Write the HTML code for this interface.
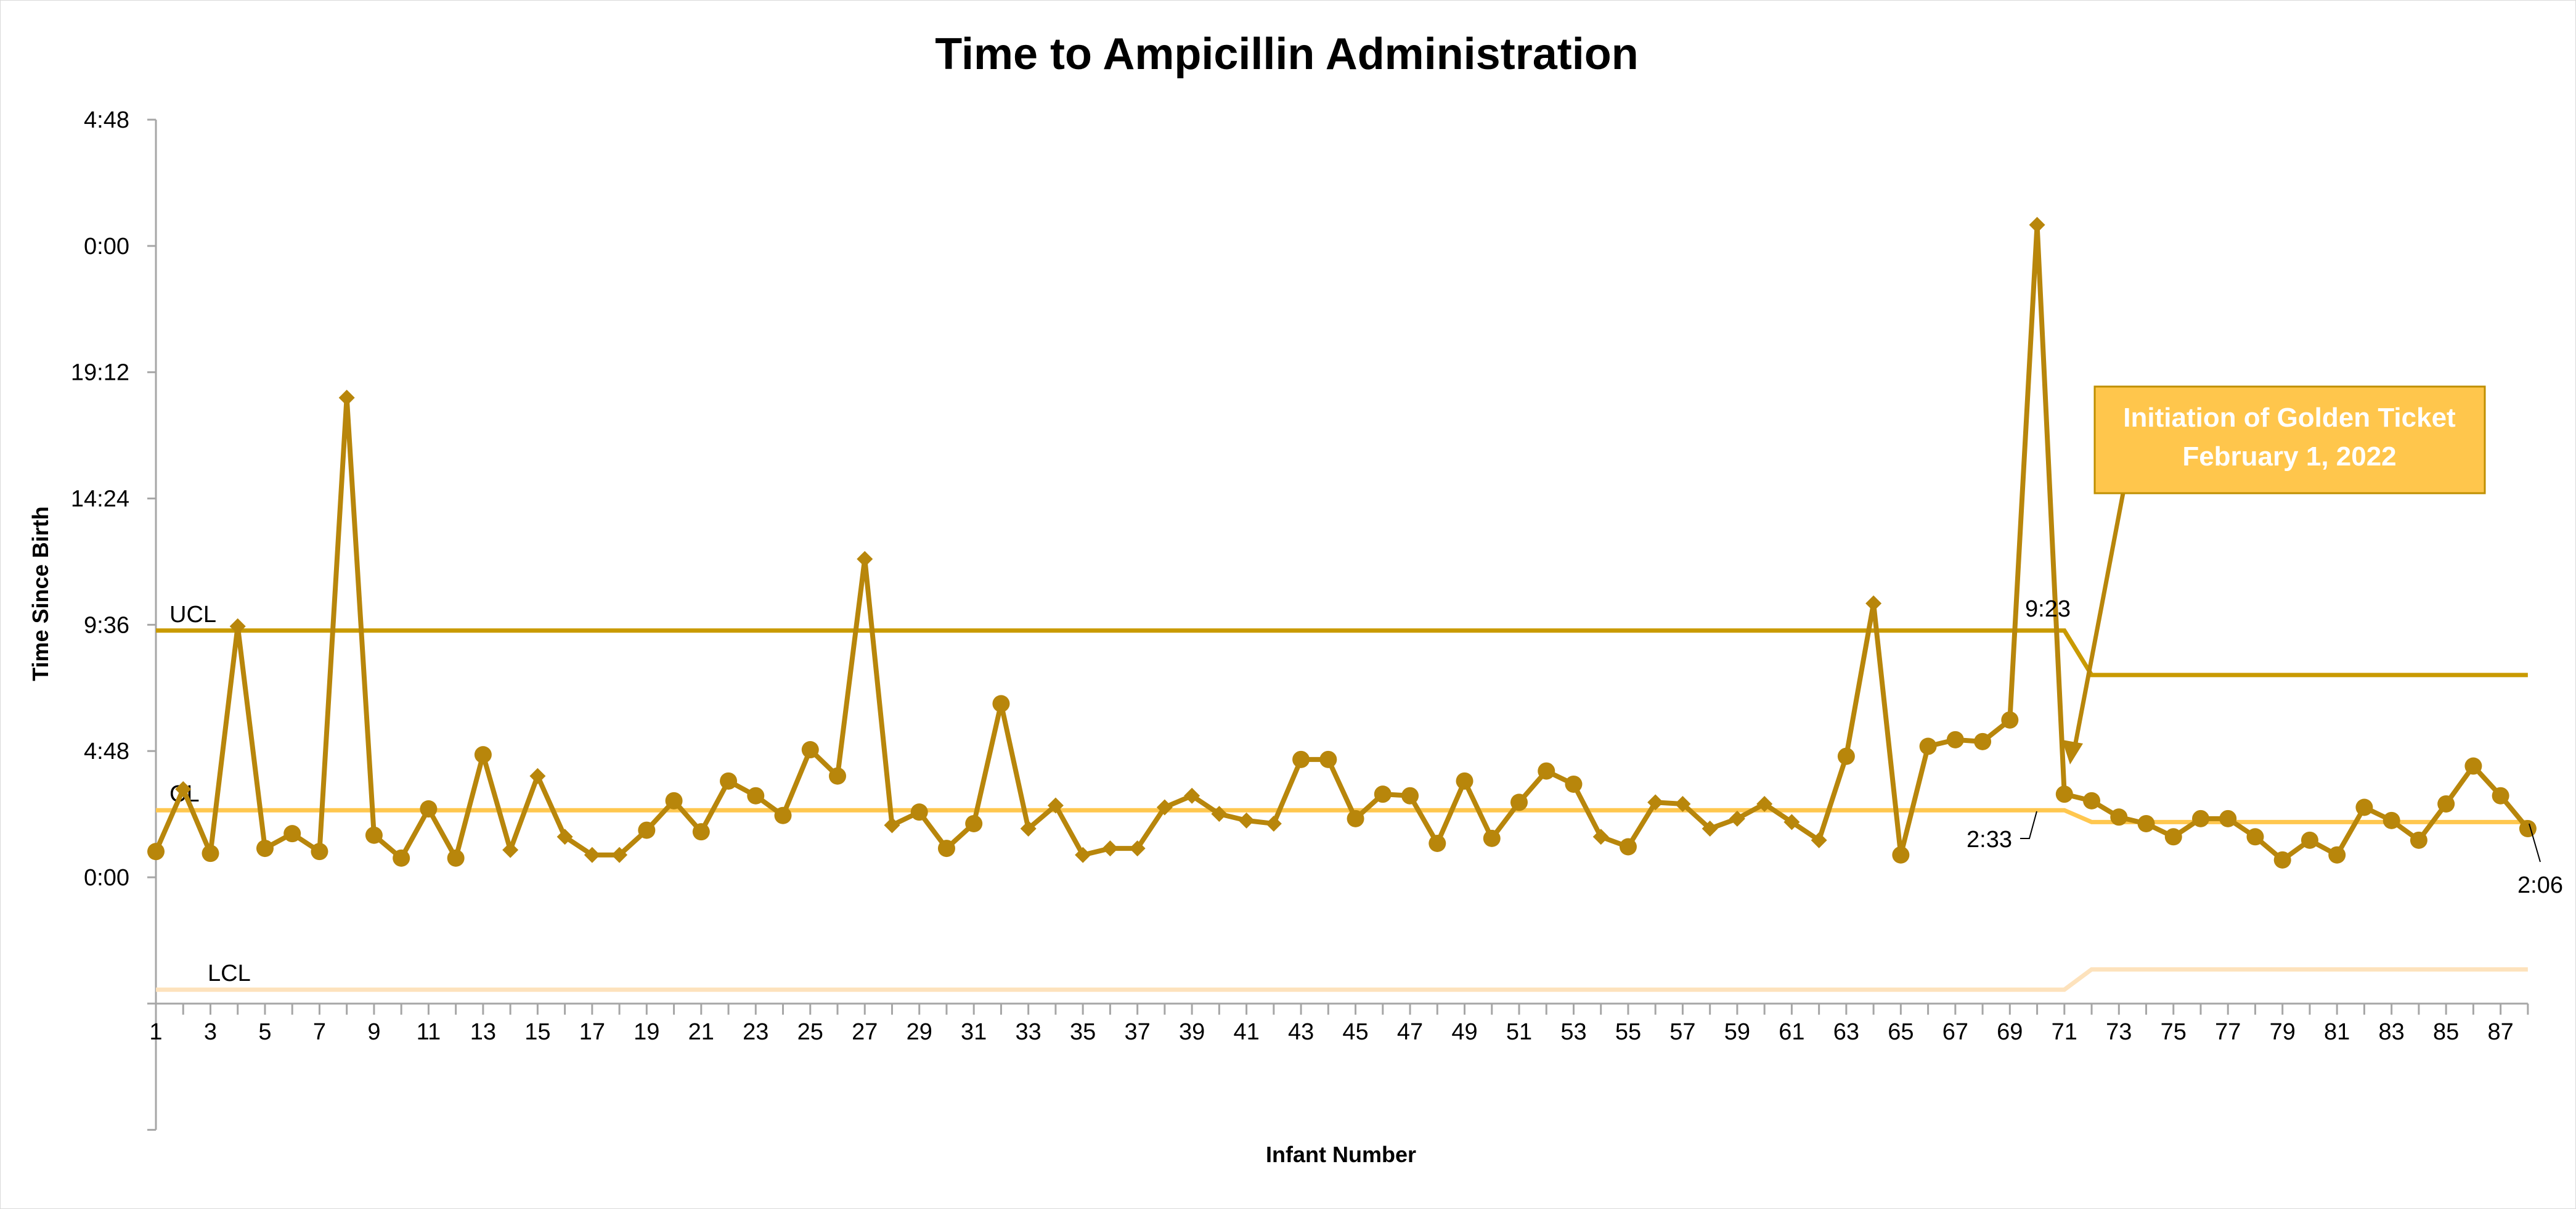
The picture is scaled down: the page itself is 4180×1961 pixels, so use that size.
<!DOCTYPE html>
<html><head><meta charset="utf-8"><style>
html,body{margin:0;padding:0;background:#fff;}
svg{display:block;font-family:"Liberation Sans",sans-serif;}
</style></head><body>
<svg id="chart" width="4180" height="1961" viewBox="0 0 4180 1961" xmlns="http://www.w3.org/2000/svg">
<rect x="0" y="0" width="4180" height="1961" fill="#fff" stroke="#d9d9d9" stroke-width="2"/>
<text x="2088" y="112" text-anchor="middle" font-size="72" font-weight="bold" fill="#000">Time to Ampicillin Administration</text>
<text transform="translate(78,963) rotate(-90)" text-anchor="middle" font-size="36" font-weight="bold" fill="#000">Time Since Birth</text>
<text x="2176" y="1885" text-anchor="middle" font-size="36" font-weight="bold" fill="#000">Infant Number</text>
<g id="axes"></g>
<g id="limits"></g>
<g id="series"></g>
<g id="annot"></g>
</svg>
<script>
const infants = [];
for (let i = 1; i <= 88; i++) infants.push(i);
const hours = [0.98,3.35,0.91,9.54,1.1,1.66,0.98,18.23,1.6,0.73,2.6,0.73,4.66,1.04,3.85,1.54,0.85,0.85,1.79,2.91,
1.73,3.66,3.1,2.35,4.85,3.85,12.1,1.98,2.48,1.1,2.04,6.6,1.85,2.73,0.85,1.1,1.1,2.66,3.1,2.41,
2.16,2.04,4.48,4.48,2.23,3.16,3.1,1.29,3.66,1.48,2.85,4.04,3.54,1.54,1.16,2.85,2.79,1.85,2.23,2.79,
2.1,1.41,4.6,10.41,0.85,4.98,5.23,5.16,5.98,24.8,3.16,2.91,2.29,2.04,1.54,2.23,2.23,1.54,0.66,1.41,
0.85,2.66,2.16,1.41,2.79,4.23,3.1,1.85];
const markerTypes = "CDCDCCCDCCCCCDDDDDCCCCCCCCDDCCCCDDDDDDDDDDCCCCCCCCCCCDCDDDDDDDCDCCCCCDCCCCCCCCCCCCCCCCCC";
const uclValues = [9.38, 7.69];
const clValues = [2.55, 2.10];
const lclValues = [-4.27, -3.5];
const changeIndex = 71;
const yTickValues = [-9.6,-4.8,0,4.8,9.6,14.4,19.2,24,28.8];
const yTickLabels = ["","","0:00","4:48","9:36","14:24","19:12","0:00","4:48"];

const NS = "http://www.w3.org/2000/svg";
const X0 = 253, DX = 44.24, Y0 = 1423, PPH = 42.67;
function xs(i){ return X0 + (i-1)*DX; }
function ys(h){ return Y0 - h*PPH; }
function mk(tag, attrs, parent){ const e=document.createElementNS(NS,tag); for(const k in attrs) e.setAttribute(k,attrs[k]); parent.appendChild(e); return e; }

const axes = document.getElementById('axes');
const yAxis = mk('line',{x1:X0,y1:ys(28.8),x2:X0,y2:ys(-9.6),stroke:'#a6a6a6','stroke-width':3},axes);


yTickValues.forEach((v,k)=>{
  const t = mk('line',{x1:X0-14,y1:ys(v),x2:X0,y2:ys(v),stroke:'#a6a6a6','stroke-width':3},axes);
  
  
  if (yTickLabels[k]) {
    const l = mk('text',{x:210,y:ys(v)+13,'text-anchor':'end','font-size':38,fill:'#000'},axes);
    l.textContent = yTickLabels[k];
    
    
  }
});
const xAxisY = ys(-4.8);
const xAxis = mk('line',{x1:X0,y1:xAxisY,x2:xs(88),y2:xAxisY,stroke:'#a6a6a6','stroke-width':3},axes);


infants.forEach(i=>{
  const t = mk('line',{x1:xs(i),y1:xAxisY,x2:xs(i),y2:xAxisY+18,stroke:'#a6a6a6','stroke-width':3},axes);
  
  
  if (i%2===1) {
    const l = mk('text',{x:xs(i),y:xAxisY+58,'text-anchor':'middle','font-size':38,fill:'#000'},axes);
    l.textContent = String(i);
    
    
  }
});

const lim = document.getElementById('limits');
function limitPath(vals,color,name,w){
  const d = `M${xs(1)},${ys(vals[0])} L${xs(changeIndex)},${ys(vals[0])} L${xs(changeIndex+1)},${ys(vals[1])} L${xs(88)},${ys(vals[1])}`;
  const p = mk('path',{d:d,fill:'none',stroke:color,'stroke-width':w},lim);
  
  
}
limitPath(uclValues,'#C99A00','ucl-line',7);
limitPath(clValues,'#FFC74F','cl-line',7);
limitPath(lclValues,'#FDE2BC','lcl-line',7);
[['UCL',uclValues[0],'ucl-label',275],['CL',clValues[0],'cl-label',275],['LCL',lclValues[0],'lcl-label',337]].forEach(a=>{
  const t = mk('text',{x:a[3],y:ys(a[1])-14,'font-size':38,fill:'#000'},lim);
  t.textContent = a[0];
  
  
});

const ser = document.getElementById('series');
const pts = hours.map((h,k)=>xs(infants[k])+','+ys(h)).join(' ');
const line = mk('polyline',{points:pts,fill:'none',stroke:'#B8860B','stroke-width':8,'stroke-linejoin':'round'},ser);


hours.forEach((h,k)=>{
  const cx = xs(infants[k]), cy = ys(h);
  let m;
  if (markerTypes[k]==='D') {
    m = mk('polygon',{points:`${cx},${cy-13} ${cx+13},${cy} ${cx},${cy+13} ${cx-13},${cy}`,fill:'#B8860B'},ser);
  } else {
    m = mk('circle',{cx:cx,cy:cy,r:14,fill:'#B8860B'},ser);
  }
  
  
});

const an = document.getElementById('annot');
const t923 = mk('text',{x:3323,y:1000,'text-anchor':'middle','font-size':38,fill:'#000'},an);
t923.textContent='9:23';


const t233 = mk('text',{x:3228,y:1374,'text-anchor':'middle','font-size':38,fill:'#000'},an);
t233.textContent='2:33';


const l233 = mk('polyline',{points:'3278,1360 3293,1360 3305,1316',fill:'none',stroke:'#000','stroke-width':2},an);


const t206 = mk('text',{x:4122,y:1448,'text-anchor':'middle','font-size':38,fill:'#000'},an);
t206.textContent='2:06';


const l206 = mk('line',{x1:4104,y1:1336,x2:4122,y2:1398,stroke:'#000','stroke-width':2},an);


const arr = mk('line',{x1:3445,y1:800,x2:3368,y2:1205,stroke:'#B8860B','stroke-width':7},an);


const head = mk('polygon',{points:'3359,1240 3346,1200 3380,1206',fill:'#B8860B'},an);


const box = mk('rect',{x:3399,y:627,width:633,height:173,fill:'#FFC64C',stroke:'#BF8F00','stroke-width':3},an);


const c1 = mk('text',{x:3715,y:692,'text-anchor':'middle','font-size':44,'font-weight':'bold',fill:'#fff'},an);
c1.textContent='Initiation of Golden Ticket';


const c2 = mk('text',{x:3715,y:755,'text-anchor':'middle','font-size':44,'font-weight':'bold',fill:'#fff'},an);
c2.textContent='February 1, 2022';


</script>
</body></html>
